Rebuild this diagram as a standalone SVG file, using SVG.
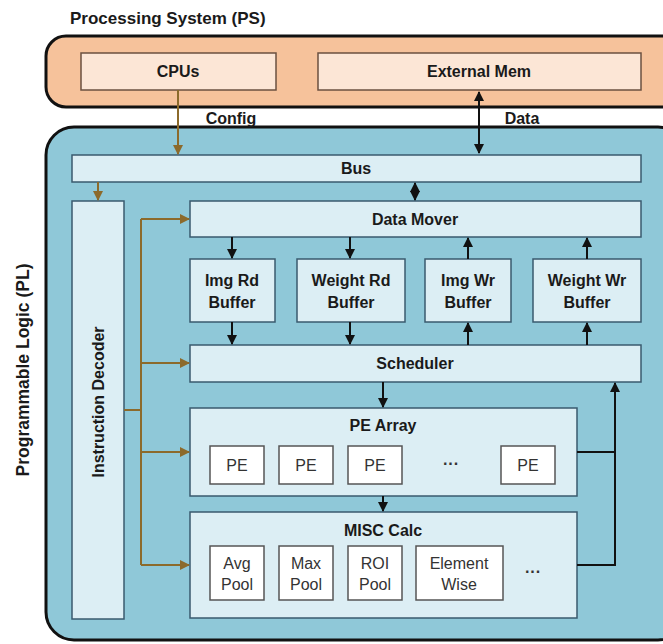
<svg xmlns="http://www.w3.org/2000/svg" width="663" height="644" viewBox="0 0 663 644">
<defs>
<style>
.t{font-family:"Liberation Sans",Arial,sans-serif;font-size:16px;fill:#1a1a1a;text-anchor:middle;}
.b{font-weight:bold;}
.n{font-weight:normal;fill:#333;}
.ps{fill:#FCE6D6;stroke:#6B5040;stroke-width:1.5;}
.pl{fill:#DCEEF4;stroke:#3A5A6E;stroke-width:1.5;}
.pe{fill:#FFFFFF;stroke:#555;stroke-width:1.5;}
.k{stroke:#111;stroke-width:2;fill:none;}
.br{stroke:#8C6A2B;stroke-width:2;fill:none;}
</style>
<marker id="ak" viewBox="0 0 10 10" refX="9" refY="5" markerWidth="5" markerHeight="5" orient="auto-start-reverse"><path d="M0,0 L10,5 L0,10 z" fill="#111"/></marker>
<marker id="ab" viewBox="0 0 10 10" refX="9" refY="5" markerWidth="5" markerHeight="5" orient="auto-start-reverse"><path d="M0,0 L10,5 L0,10 z" fill="#8C6A2B"/></marker>
</defs>
<rect width="663" height="644" fill="#ffffff"/>
<text class="t b" x="70" y="24" style="text-anchor:start;font-size:17px">Processing System (PS)</text>
<g id="ps">
<rect x="46" y="36" width="640" height="71" rx="20" fill="#F6C29B" stroke="#111" stroke-width="3"/>
</g>
<g id="pl">
<rect x="46" y="127" width="640" height="513" rx="28" fill="#8FC8D8" stroke="#111" stroke-width="3"/>
</g>
<text class="t b" transform="translate(29,370) rotate(-90)" style="font-size:17.5px">Programmable Logic (PL)</text>
<g id="cpus"><rect class="ps" x="81" y="53" width="195" height="37"/><text class="t b" x="178" y="77">CPUs</text></g>
<g id="extmem"><rect class="ps" x="318" y="53" width="323" height="37"/><text class="t b" x="479" y="77">External Mem</text></g>
<g id="bus"><rect class="pl" x="72" y="155" width="569" height="27"/><text class="t b" x="356" y="174">Bus</text></g>
<g id="decoder"><rect class="pl" x="72" y="201" width="52" height="418"/><text class="t b" transform="translate(104,402) rotate(-90)">Instruction Decoder</text></g>
<g id="datamover"><rect class="pl" x="190" y="201" width="451" height="36"/><text class="t b" x="415" y="225">Data Mover</text></g>
<g id="imgrd"><rect class="pl" x="190" y="259" width="85" height="63"/><text class="t b" x="232" y="286">Img Rd</text><text class="t b" x="232" y="308">Buffer</text></g>
<g id="weightrd"><rect class="pl" x="297" y="259" width="108" height="63"/><text class="t b" x="351" y="286">Weight Rd</text><text class="t b" x="351" y="308">Buffer</text></g>
<g id="imgwr"><rect class="pl" x="425" y="259" width="86" height="63"/><text class="t b" x="468" y="286">Img Wr</text><text class="t b" x="468" y="308">Buffer</text></g>
<g id="weightwr"><rect class="pl" x="533" y="259" width="108" height="63"/><text class="t b" x="587" y="286">Weight Wr</text><text class="t b" x="587" y="308">Buffer</text></g>
<g id="scheduler"><rect class="pl" x="190" y="345" width="451" height="37"/><text class="t b" x="415" y="369">Scheduler</text></g>
<g id="pearray"><rect class="pl" x="190" y="408" width="387" height="88"/><text class="t b" x="383" y="431">PE Array</text>
<rect class="pe" x="210" y="446" width="54" height="38"/><text class="t n" x="237" y="471">PE</text>
<rect class="pe" x="279" y="446" width="54" height="38"/><text class="t n" x="306" y="471">PE</text>
<rect class="pe" x="348" y="446" width="54" height="38"/><text class="t n" x="375" y="471">PE</text>
<text class="t b" x="451" y="469" style="fill:#333">···</text>
<rect class="pe" x="501" y="446" width="54" height="38"/><text class="t n" x="528" y="471">PE</text>
</g>
<g id="misc"><rect class="pl" x="190" y="512" width="387" height="106"/><text class="t b" x="383" y="536">MISC Calc</text>
<rect class="pe" x="210" y="546" width="54" height="54"/><text class="t n" x="237" y="569">Avg</text><text class="t n" x="237" y="590">Pool</text>
<rect class="pe" x="279" y="546" width="54" height="54"/><text class="t n" x="306" y="569">Max</text><text class="t n" x="306" y="590">Pool</text>
<rect class="pe" x="348" y="546" width="54" height="54"/><text class="t n" x="375" y="569">ROI</text><text class="t n" x="375" y="590">Pool</text>
<rect class="pe" x="416" y="546" width="87" height="54"/><text class="t n" x="459" y="569">Element</text><text class="t n" x="459" y="590">Wise</text>
<text class="t b" x="533" y="577" style="fill:#333">···</text>
</g>
<g id="connectors">
<path class="br" d="M178,90 V154" marker-end="url(#ab)"/>
<text class="t b" x="231" y="124">Config</text>
<path class="k" d="M479,92 V153" marker-start="url(#ak)" marker-end="url(#ak)"/>
<text class="t b" x="522" y="124">Data</text>
<path class="k" d="M415,183 V200" marker-start="url(#ak)" marker-end="url(#ak)"/>
<path class="br" d="M98,182 V200" marker-end="url(#ab)"/>
<path class="br" d="M124,410 H141"/>
<path class="br" d="M141,219 V565"/>
<path class="br" d="M141,219 H189" marker-end="url(#ab)"/>
<path class="br" d="M141,363 H189" marker-end="url(#ab)"/>
<path class="br" d="M141,452 H189" marker-end="url(#ab)"/>
<path class="br" d="M141,565 H189" marker-end="url(#ab)"/>
<path class="k" d="M232,237 V258" marker-end="url(#ak)"/>
<path class="k" d="M350,237 V258" marker-end="url(#ak)"/>
<path class="k" d="M468,259 V238" marker-end="url(#ak)"/>
<path class="k" d="M587,259 V238" marker-end="url(#ak)"/>
<path class="k" d="M232,322 V344" marker-end="url(#ak)"/>
<path class="k" d="M350,322 V344" marker-end="url(#ak)"/>
<path class="k" d="M468,345 V323" marker-end="url(#ak)"/>
<path class="k" d="M587,345 V323" marker-end="url(#ak)"/>
<path class="k" d="M383,382 V407" marker-end="url(#ak)"/>
<path class="k" d="M383,496 V511" marker-end="url(#ak)"/>
<path class="k" d="M577,452 H615"/>
<path class="k" d="M577,565 H615 V383" marker-end="url(#ak)"/>
</g>
</svg>
